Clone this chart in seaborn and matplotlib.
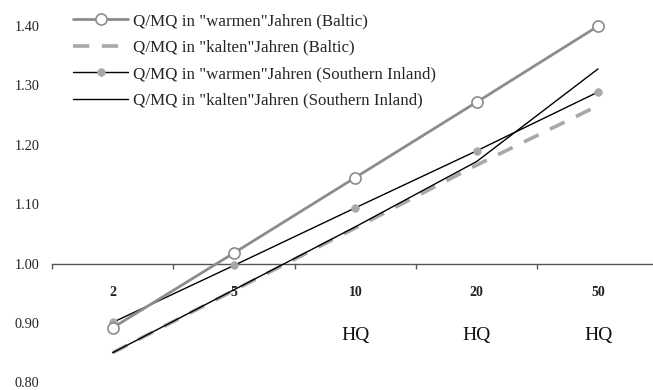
import numpy as np
import pandas as pd
import matplotlib
matplotlib.use("Agg")
import matplotlib.pyplot as plt
import seaborn as sns
from matplotlib.ticker import FixedLocator, FormatStrFormatter

# Return periods (categories) and Q/MQ values
return_periods = ["2", "5", "10", "20", "50"]
warm_baltic = [0.892, 1.018, 1.145, 1.272, 1.400]
cold_baltic = [0.850, 0.955, 1.060, 1.166, 1.266]
warm_south = [0.901, 0.997, 1.094, 1.190, 1.289]
cold_south = [0.850, 0.956, 1.062, 1.172, 1.328]
hq_labels = ["", "", "HQ", "HQ", "HQ"]
y_ticks = [0.80, 0.90, 1.00, 1.10, 1.20, 1.30, 1.40]

labels = ['Q/MQ in "warmen"Jahren (Baltic)',
          'Q/MQ in "kalten"Jahren (Baltic)',
          'Q/MQ in "warmen"Jahren (Southern Inland)',
          'Q/MQ in "kalten"Jahren (Southern Inland)']

df = pd.DataFrame({"T": return_periods, "wb": warm_baltic, "kb": cold_baltic,
                   "ws": warm_south, "ks": cold_south})
df["x"] = np.arange(len(df))

sns.set_theme(style="white")
plt.rcParams['font.family'] = ['Liberation Serif', 'DejaVu Serif']

fig = plt.figure(figsize=(6.53, 3.90), dpi=100)
ax = fig.add_axes([52 / 653, 0.0195, 601 / 653, 0.9440])

gray = "#8c8c8c"
light = "#a8a8a8"

sns.lineplot(data=df, x="x", y="wb", ax=ax, color=gray, linewidth=2.0,
             marker="o", markersize=8, markerfacecolor="white",
             markeredgecolor=gray, markeredgewidth=1.2, label=labels[0],
             clip_on=False, zorder=4)
sns.lineplot(data=df, x="x", y="kb", ax=ax, color=light, linewidth=2.6,
             linestyle=(0, (4.5, 3.5)), label=labels[1], zorder=2)
sns.lineplot(data=df, x="x", y="ws", ax=ax, color="black", linewidth=1.0,
             marker="o", markersize=5.5, markerfacecolor=light,
             markeredgecolor=light, markeredgewidth=0.5, label=labels[2],
             zorder=3)
sns.lineplot(data=df, x="x", y="ks", ax=ax, color="black", linewidth=1.0,
             label=labels[3], zorder=3)

ax.set_xlim(-0.5, 4.453)
ax.set_ylim(0.80, 1.42)
ax.set_xlabel("")
ax.set_ylabel("")

# y axis: labels only
ax.set_yticks(y_ticks)
ax.yaxis.set_major_formatter(FormatStrFormatter("%.2f"))
ax.tick_params(axis="y", length=0, pad=9, labelsize=10.3, colors="#222222")

# x axis crossing at 1.00
for s in ["top", "right", "left"]:
    ax.spines[s].set_visible(False)
ax.spines["bottom"].set_position(("data", 1.0))
ax.spines["bottom"].set_color("#555555")
ax.spines["bottom"].set_linewidth(1.0)
ax.set_xticks(df["x"])
ax.set_xticklabels(return_periods, fontweight="bold")
ax.tick_params(axis="x", which="major", bottom=True, length=0, pad=16,
               labelsize=10, colors="#222222")
ax.xaxis.set_minor_locator(FixedLocator(np.arange(-0.5, 5, 1.0)))
ax.tick_params(axis="x", which="minor", bottom=True, length=3.5, width=1.0,
               direction="out", color="#555555")

for xi, t in zip(df["x"], hq_labels):
    if t:
        ax.text(xi, 0.879, t, ha="center", va="center", fontsize=14,
                color="#111111")

leg = ax.legend(loc="upper left", bbox_to_anchor=(73 / 653, 1 - 13 / 390),
                bbox_transform=fig.transFigure, frameon=False, fontsize=12.2,
                handlelength=3.25, handletextpad=0.3, borderpad=0,
                labelspacing=0.62, borderaxespad=0)

fig.savefig("out.png", dpi=100)
